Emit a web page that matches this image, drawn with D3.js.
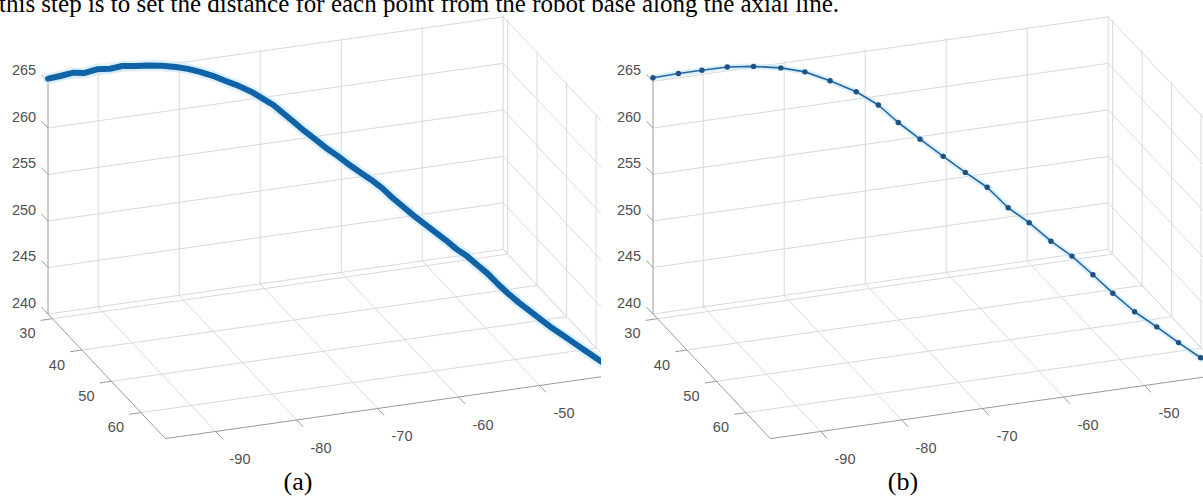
<!DOCTYPE html>
<html><head><meta charset="utf-8">
<script src="https://cdn.jsdelivr.net/npm/d3@7"></script>
<style>html,body{margin:0;padding:0;background:#fff;overflow:hidden}</style>
</head><body>
<svg id="chart" width="1203" height="496"></svg>
<script>
// ---------- text ----------
const captionText = "this step is to set the distance for each point from the robot base along the axial line.";
const panelLabels = ["(a)", "(b)"];

// ---------- axes ----------
const xTicks = [-90, -80, -70, -60, -50, -40];
const xLabelTicks = [-90, -80, -70, -60, -50];
const yTicks = [30, 40, 50, 60];
const zTicks = [240, 245, 250, 255, 260, 265];
const xLimits = [-96.2, -40];
const yLimits = [28.5, 68.3];
const zLimits = [240, 265.2];

// ---------- (a) dense measured trajectory ----------
const rawX = [-96.2,-94.7,-93.1,-91.7,-90.2,-88.6,-87.1,-85.5,-83.9,-82.3,-80.6,-79.3,-78.1,-76.9,-75.8,-74.6,-73.4,-72.4,-71.4,-70.5,-69.6,-68.6,-67.6,-66.5,-65.5,-64.5,-63.5,-62.5,-61.5,-60.6,-59.6,-58.7,-57.7,-56.7,-55.7,-54.8,-53.8,-52.8,-51.9,-51.0,-50.1,-49.1,-48.1,-47.1,-46.1,-45.1,-44.1,-43.1,-42.1,-41.0,-40.0];
const rawY = [28.5,28.5,28.6,28.6,28.6,28.7,28.7,28.7,28.8,28.9,29.0,29.5,30.3,31.4,32.5,33.6,34.8,35.8,36.8,37.7,38.6,39.5,40.5,41.6,42.6,43.6,44.6,45.5,46.5,47.5,48.4,49.3,50.3,51.2,52.2,53.2,54.1,55.0,56.0,56.9,57.8,58.8,59.7,60.7,61.7,62.6,63.6,64.6,65.6,67.0,68.3];
const rawZ = [265.3,265.4,265.6,265.4,265.6,265.5,265.6,265.4,265.3,265.1,264.8,264.6,264.4,264.2,263.9,263.6,263.2,262.7,262.2,261.5,260.8,260.0,259.3,258.5,257.9,257.2,256.6,256.0,255.3,254.5,253.7,253.0,252.3,251.6,250.9,250.2,249.6,248.8,248.1,247.2,246.4,245.6,244.9,244.2,243.5,242.9,242.3,241.7,241.1,240.5,240.0];

// ---------- (b) selected points ----------
const sampX = [-96.2,-93.1,-90.2,-87.1,-83.9,-80.6,-78.1,-75.8,-73.4,-71.4,-69.6,-67.6,-65.5,-63.5,-61.5,-59.6,-57.7,-55.7,-53.8,-51.9,-50.1,-48.1,-46.1,-44.1,-42.1,-40.0];
const sampY = [28.5,28.6,28.6,28.7,28.8,29.0,30.3,32.5,34.8,36.8,38.6,40.5,42.6,44.6,46.5,48.4,50.3,52.2,54.1,56.0,57.8,59.7,61.7,63.6,65.6,68.3];
const sampZ = [265.4,265.5,265.5,265.5,265.2,264.7,264.4,263.9,263.2,262.2,260.7,259.3,257.9,256.6,255.4,253.6,252.4,250.8,249.6,248.0,246.4,244.8,243.6,242.3,241.1,240.0];

// ---------- projection (orthographic view) ----------
const origin = [48, 314];
const EX = [455.2, -64.6], EY = [117.4, 124.6], EZ = [0, -234.4];
const xS = d3.scaleLinear().domain(xLimits).range([0, 1]);
const yS = d3.scaleLinear().domain(yLimits).range([0, 1]);
const zS = d3.scaleLinear().domain(zLimits).range([0, 1]);
function P(x, y, z) {
  const a = xS(x), b = yS(y), c = zS(z);
  return [origin[0] + a*EX[0] + b*EY[0] + c*EZ[0], origin[1] + a*EX[1] + b*EY[1] + c*EZ[1]];
}
const [x0, x1] = xLimits, [y0, y1] = yLimits, [z0, z1] = zLimits;

const svg = d3.select("#chart");
svg.append("rect").attr("width", 1203).attr("height", 496).attr("fill", "#fff");

svg.append("text").attr("x", -1).attr("y", 12)
  .attr("font-family", "Liberation Serif, Times New Roman, serif").attr("font-size", 25)
  .attr("fill", "#000").text(captionText);

const defs = svg.append("defs");
defs.append("clipPath").attr("id", "clipA").append("rect").attr("x", 0).attr("y", 16).attr("width", 601).attr("height", 470);
defs.append("clipPath").attr("id", "clipB").append("rect").attr("x", -5).attr("y", 16).attr("width", 603).attr("height", 470);

const line2 = d3.line();

function drawPanel(g, xs, ys, zs, dense) {
  const grid = g.append("g").attr("stroke", "#d9d9d9").attr("stroke-width", 1).attr("fill", "none");
  const seg = (p, q) => grid.append("path").attr("d", line2([p, q]));
  // back wall (y = min)
  xTicks.forEach(x => seg(P(x, y0, z0), P(x, y0, z1)));
  zTicks.forEach(z => seg(P(x0, y0, z), P(x1, y0, z)));
  // floor (z = min)
  xTicks.forEach(x => seg(P(x, y0, z0), P(x, y1, z0)));
  yTicks.forEach(y => seg(P(x0, y, z0), P(x1, y, z0)));
  // side wall (x = max)
  yTicks.forEach(y => seg(P(x1, y, z0), P(x1, y, z1)));
  zTicks.forEach(z => seg(P(x1, y0, z), P(x1, y1, z)));

  // axis lines
  const ax = g.append("g").attr("stroke", "#9a9a9a").attr("stroke-width", 1).attr("fill", "none");
  ax.append("path").attr("d", line2([P(x0, y0, z0), P(x0, y0, z1)]));
  ax.append("path").attr("d", line2([P(x0, y0, z0), P(x0, y1, z0)]));
  ax.append("path").attr("d", line2([P(x0, y1, z0), P(x1, y1, z0)]));
  // ticks
  zTicks.forEach(z => { const p = P(x0, y0, z); ax.append("path").attr("d", line2([p, [p[0]-6.5, p[1]-6.9]])); });
  yTicks.forEach(y => { const p = P(x0, y, z0); ax.append("path").attr("d", line2([p, [p[0]-11.7, p[1]+1.7]])); });
  xTicks.forEach(x => { const p = P(x, y1, z0); ax.append("path").attr("d", line2([p, [p[0]+6.5, p[1]+6.9]])); });

  // tick labels
  const lab = g.append("g").attr("font-family", "Liberation Sans, Arial, sans-serif").attr("font-size", 14.5)
    .attr("fill", "#505050").attr("text-anchor", "middle").attr("dominant-baseline", "central");
  zTicks.forEach(z => { const p = P(x0, y0, z); lab.append("text").attr("x", p[0]-24).attr("y", p[1]-11).text(z); });
  yTicks.forEach(y => { const p = P(x0, y, z0); lab.append("text").attr("x", p[0]-25).attr("y", p[1]+14.5).text(y); });
  xLabelTicks.forEach(x => { const p = P(x, y1, z0); lab.append("text").attr("x", p[0]+24.4).attr("y", p[1]+28).text(x); });

  // data
  const pts = xs.map((x, i) => P(x, ys[i], zs[i]));
  const curve = d3.line();
  if (dense) {
    g.append("path").attr("d", curve(pts)).attr("fill", "none").attr("stroke", "#cfeafb")
      .attr("stroke-width", 11).attr("stroke-linejoin", "round").attr("stroke-linecap", "round").attr("opacity", 0.7);
    g.append("path").attr("d", curve(pts)).attr("fill", "none").attr("stroke", "#0f63a6")
      .attr("stroke-width", 6).attr("stroke-linejoin", "round").attr("stroke-linecap", "round");
  } else {
    g.append("path").attr("d", curve(pts)).attr("fill", "none").attr("stroke", "#cde9fa")
      .attr("stroke-width", 6).attr("stroke-linejoin", "round").attr("opacity", 0.7);
    g.append("path").attr("d", curve(pts)).attr("fill", "none").attr("stroke", "#2567a0")
      .attr("stroke-width", 1.6).attr("stroke-linejoin", "round");
    g.selectAll("circle.m").data(pts).join("circle").attr("class", "m")
      .attr("cx", d => d[0]).attr("cy", d => d[1]).attr("r", 2.7).attr("fill", "#1d5283");
  }
}

const gA = svg.append("g").attr("clip-path", "url(#clipA)");
drawPanel(gA, rawX, rawY, rawZ, true);
const gB = svg.append("g").attr("transform", "translate(605,0)").append("g").attr("clip-path", "url(#clipB)");
drawPanel(gB, sampX, sampY, sampZ, false);

const cap = svg.append("g").attr("font-family", "Liberation Serif, Times New Roman, serif").attr("font-size", 26)
  .attr("fill", "#000").attr("text-anchor", "middle");
cap.append("text").attr("x", 298).attr("y", 490).text(panelLabels[0]);
cap.append("text").attr("x", 903).attr("y", 490).text(panelLabels[1]);
</script>
</body></html>
